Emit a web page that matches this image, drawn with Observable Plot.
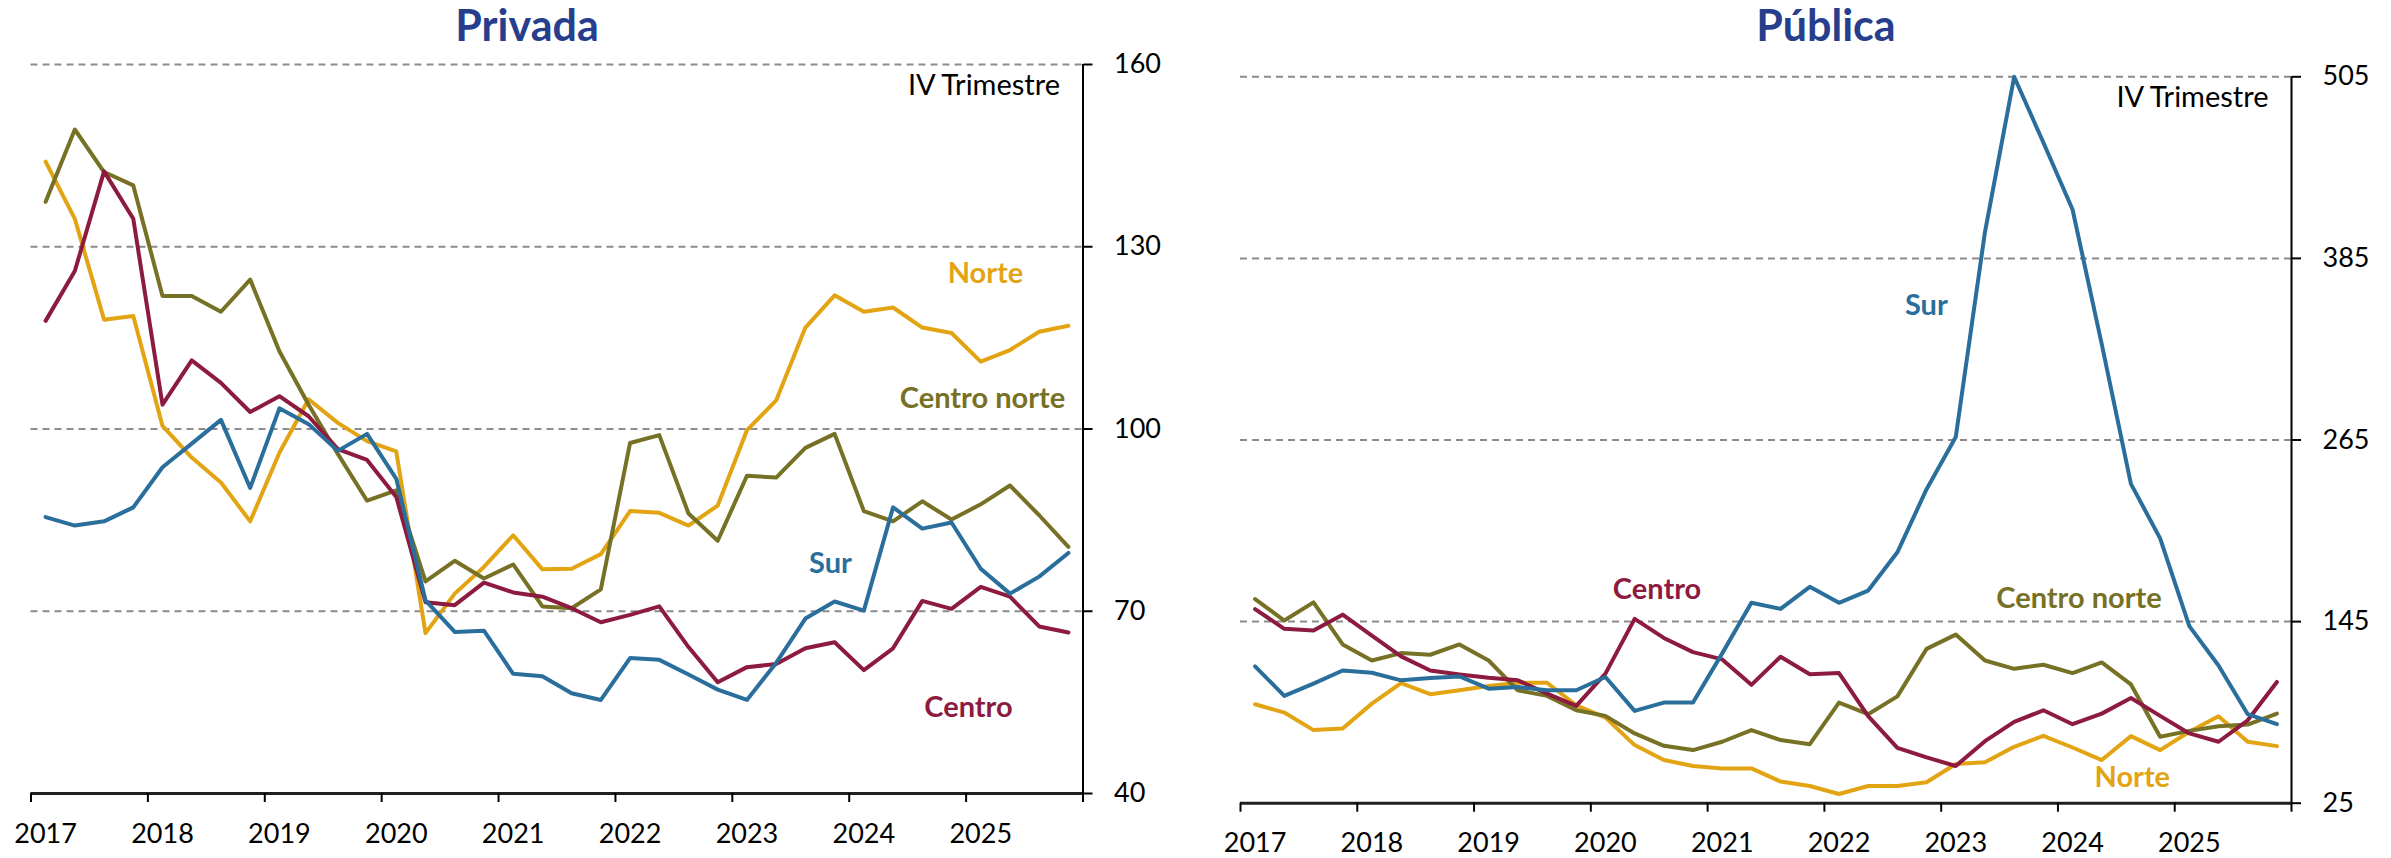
<!DOCTYPE html>
<html>
<head>
<meta charset="utf-8">
<script src="https://cdn.jsdelivr.net/npm/d3@7"></script>
<script src="https://cdn.jsdelivr.net/npm/@observablehq/plot@0.6"></script>
<style>
  body { margin: 0; background: #fff; }
  #wrap { position: relative; width: 2391px; height: 858px; overflow: hidden; font-family: Lato, "Open Sans", sans-serif; }
  .title { position: absolute; top: 3px; font-weight: 700; font-size: 43px; color: #263E8C; line-height: 1; white-space: nowrap; transform: translateX(-50%); }
  .panel { position: absolute; top: 50px; }
</style>
</head>
<body>
<div id="wrap">
  <div class="title" style="left:527px">Privada</div>
  <div class="title" style="left:1826px">Pública</div>
  <div class="panel" id="p1" style="left:0px"></div>
  <div class="panel" id="p2" style="left:1180px"></div>
</div>
<script>
// ---- data ----
const years = [2017, 2018, 2019, 2020, 2021, 2022, 2023, 2024, 2025];
const yearTicks = [2017, 2018, 2019, 2020, 2021, 2022, 2023, 2024, 2025, 2026];
const privTicks = [40, 70, 100, 130, 160];
const pubTicks = [25, 145, 265, 385, 505];

// Privada (quarterly, 2017T1..2025T4)
const privNorte = [144.0, 134.6, 118.0, 118.6, 100.5, 95.3, 91.2, 84.8, 96.1, 104.9, 101.0, 98.0, 96.3, 66.4, 72.9, 77.3, 82.5, 76.9, 77.0, 79.4, 86.5, 86.2, 84.1, 87.4, 99.8, 104.7, 116.7, 122.0, 119.3, 120.0, 116.7, 115.8, 111.1, 113.0, 116.0, 117.0];
const privCentroNorte = [137.4, 149.3, 142.3, 140.1, 121.9, 121.9, 119.3, 124.6, 112.8, 104.0, 95.9, 88.2, 89.9, 74.9, 78.3, 75.4, 77.7, 70.8, 70.5, 73.6, 97.7, 99.0, 86.1, 81.6, 92.3, 92.0, 96.9, 99.2, 86.5, 84.8, 88.1, 85.1, 87.6, 90.7, 85.8, 80.6];
const privSur = [85.5, 84.1, 84.8, 87.1, 93.7, 97.6, 101.5, 90.3, 103.4, 100.8, 96.4, 99.2, 91.8, 71.8, 66.6, 66.8, 59.7, 59.3, 56.5, 55.4, 62.3, 62.0, 59.6, 57.1, 55.4, 61.5, 68.8, 71.6, 70.1, 87.1, 83.6, 84.6, 77.0, 72.9, 75.7, 79.6];
const privCentro = [117.8, 126.0, 142.4, 134.6, 104.0, 111.3, 107.6, 102.8, 105.4, 102.1, 96.7, 94.9, 88.8, 71.5, 71.0, 74.7, 73.1, 72.4, 70.5, 68.2, 69.4, 70.8, 64.1, 58.3, 60.8, 61.3, 63.9, 64.9, 60.3, 63.9, 71.7, 70.4, 74.0, 72.4, 67.5, 66.5];

// Pública
const pubNorte = [90.4, 84.9, 73.3, 74.4, 90.8, 104.4, 97.0, 99.6, 102.4, 104.6, 104.6, 89.7, 81.6, 63.4, 53.5, 49.6, 48.0, 48.0, 39.3, 36.4, 31.1, 36.4, 36.4, 38.8, 50.9, 52.0, 62.3, 69.5, 61.8, 53.5, 69.3, 60.1, 72.2, 82.5, 65.6, 62.7];
const pubCentroNorte = [159.9, 145.7, 157.7, 129.9, 119.3, 124.2, 123.1, 129.9, 119.3, 99.6, 95.9, 86.4, 82.7, 71.1, 62.9, 60.1, 65.6, 73.3, 66.7, 64.0, 91.5, 83.8, 95.6, 127.0, 136.4, 119.3, 113.8, 116.5, 111.0, 118.0, 103.5, 68.9, 72.8, 75.9, 77.0, 84.2];
const pubSur = [115.4, 95.9, 104.0, 112.7, 111.2, 106.2, 107.7, 108.8, 100.7, 101.8, 99.6, 99.6, 108.4, 86.0, 91.5, 91.5, 124.0, 157.5, 153.4, 168.0, 157.4, 165.5, 190.8, 232.5, 267.0, 402.4, 505.0, 461.6, 417.3, 328.4, 236.0, 200.0, 142.0, 116.0, 83.8, 77.2];
const pubCentro = [153.3, 140.2, 139.1, 149.6, 135.8, 122.0, 112.7, 110.1, 107.9, 106.2, 97.4, 89.3, 110.6, 146.8, 134.2, 124.8, 120.0, 103.2, 121.8, 110.2, 111.0, 82.5, 61.6, 55.3, 49.6, 66.0, 78.7, 86.4, 77.2, 84.2, 94.5, 82.7, 71.1, 65.6, 79.8, 105.1];

const seriesNames = ["Norte", "Centro norte", "Centro", "Sur"];
const colors = { "Norte": "#E3A414", "Centro norte": "#767125", "Sur": "#2A6E9C", "Centro": "#8C1B3F" };

// label placements (data coordinates), kept separate from the values
const labelsPriv = [
  { text: "Norte", x: 2025.165, y: 125.6 },
  { text: "Centro norte", x: 2025.14, y: 105.0 },
  { text: "Sur", x: 2023.84, y: 77.9 },
  { text: "Centro", x: 2025.02, y: 54.2 }
];
const labelsPub = [
  { text: "Sur", x: 2022.873, y: 353.9 },
  { text: "Centro", x: 2020.567, y: 166.2 },
  { text: "Centro norte", x: 2024.18, y: 160.3 },
  { text: "Norte", x: 2024.637, y: 42.0 }
];

// quarter midpoints on a year axis
const quarterX = years.flatMap(y => [0.125, 0.375, 0.625, 0.875].map(f => y + f));

function toRows(map) {
  return Object.entries(map).flatMap(([name, vals]) => vals.map((v, i) => ({ name, x: quarterX[i], v })));
}

function panel(opts) {
  const { series, ticks, labels, width, mL, mR, mT, mB, yearDy } = opts;
  const ymin = ticks[0], ymax = ticks[ticks.length - 1];
  const rows = toRows(series);
  const font = "Lato, 'Open Sans', sans-serif";
  return Plot.plot({
    width, height: 808,
    marginLeft: mL, marginRight: mR, marginTop: mT, marginBottom: mB,
    style: { fontFamily: font, fontSize: "27px", color: "#000", background: "transparent", overflow: "visible" },
    x: { domain: [2017, 2026], axis: null, label: null },
    y: { domain: [ymin, ymax], axis: null, label: null },
    color: { type: "identity" },
    marks: [
      Plot.ruleY(ticks.slice(1), { stroke: "#8c8c8c", strokeWidth: 2, strokeDasharray: "7,5" }),
      ...seriesNames.map(n => Plot.line(rows.filter(r => r.name === n), {
        x: "x", y: "v", stroke: colors[n], strokeWidth: 4, strokeLinejoin: "round", strokeLinecap: "round"
      })),
      Plot.ruleY([ymin], { stroke: "#1f1f1f", strokeWidth: 3 }),
      Plot.ruleX([2026], { stroke: "#000", strokeWidth: 2 }),
      Plot.axisX(yearTicks, { anchor: "bottom", tickSize: 9, tickFormat: () => "", label: null, stroke: "#000", strokeWidth: 2 }),
      Plot.text(years, { x: d => d + 0.125, text: d => String(d), frameAnchor: "bottom", dy: yearDy, lineAnchor: "middle", textAnchor: "middle", fontSize: 27, fill: "#000" }),
      Plot.axisY(ticks, { anchor: "right", tickSize: 9, tickPadding: 22, tickFormat: d => String(d), label: null, fontSize: 27, stroke: "#000", strokeWidth: 2, fill: "#000" }),
      Plot.text(["IV Trimestre"], { frameAnchor: "top-right", dx: -23, dy: 21, textAnchor: "end", lineAnchor: "middle", fontSize: 29, fill: "#000" }),
      Plot.text(labels, { x: "x", y: "y", text: "text", fill: d => colors[d.text], fontWeight: 700, fontSize: 29, textAnchor: "middle", lineAnchor: "middle" })
    ]
  });
}

document.getElementById("p1").append(panel({
  series: { "Norte": privNorte, "Centro norte": privCentroNorte, "Centro": privCentro, "Sur": privSur },
  ticks: privTicks, labels: labelsPriv, width: 1180,
  mL: 30.5, mR: 97.5, mT: 14, mB: 65, yearDy: 41
}));
document.getElementById("p2").append(panel({
  series: { "Norte": pubNorte, "Centro norte": pubCentroNorte, "Centro": pubCentro, "Sur": pubSur },
  ticks: pubTicks, labels: labelsPub, width: 1211,
  mL: 60, mR: 100, mT: 26.3, mB: 55.3, yearDy: 40
}));
</script>
</body>
</html>
